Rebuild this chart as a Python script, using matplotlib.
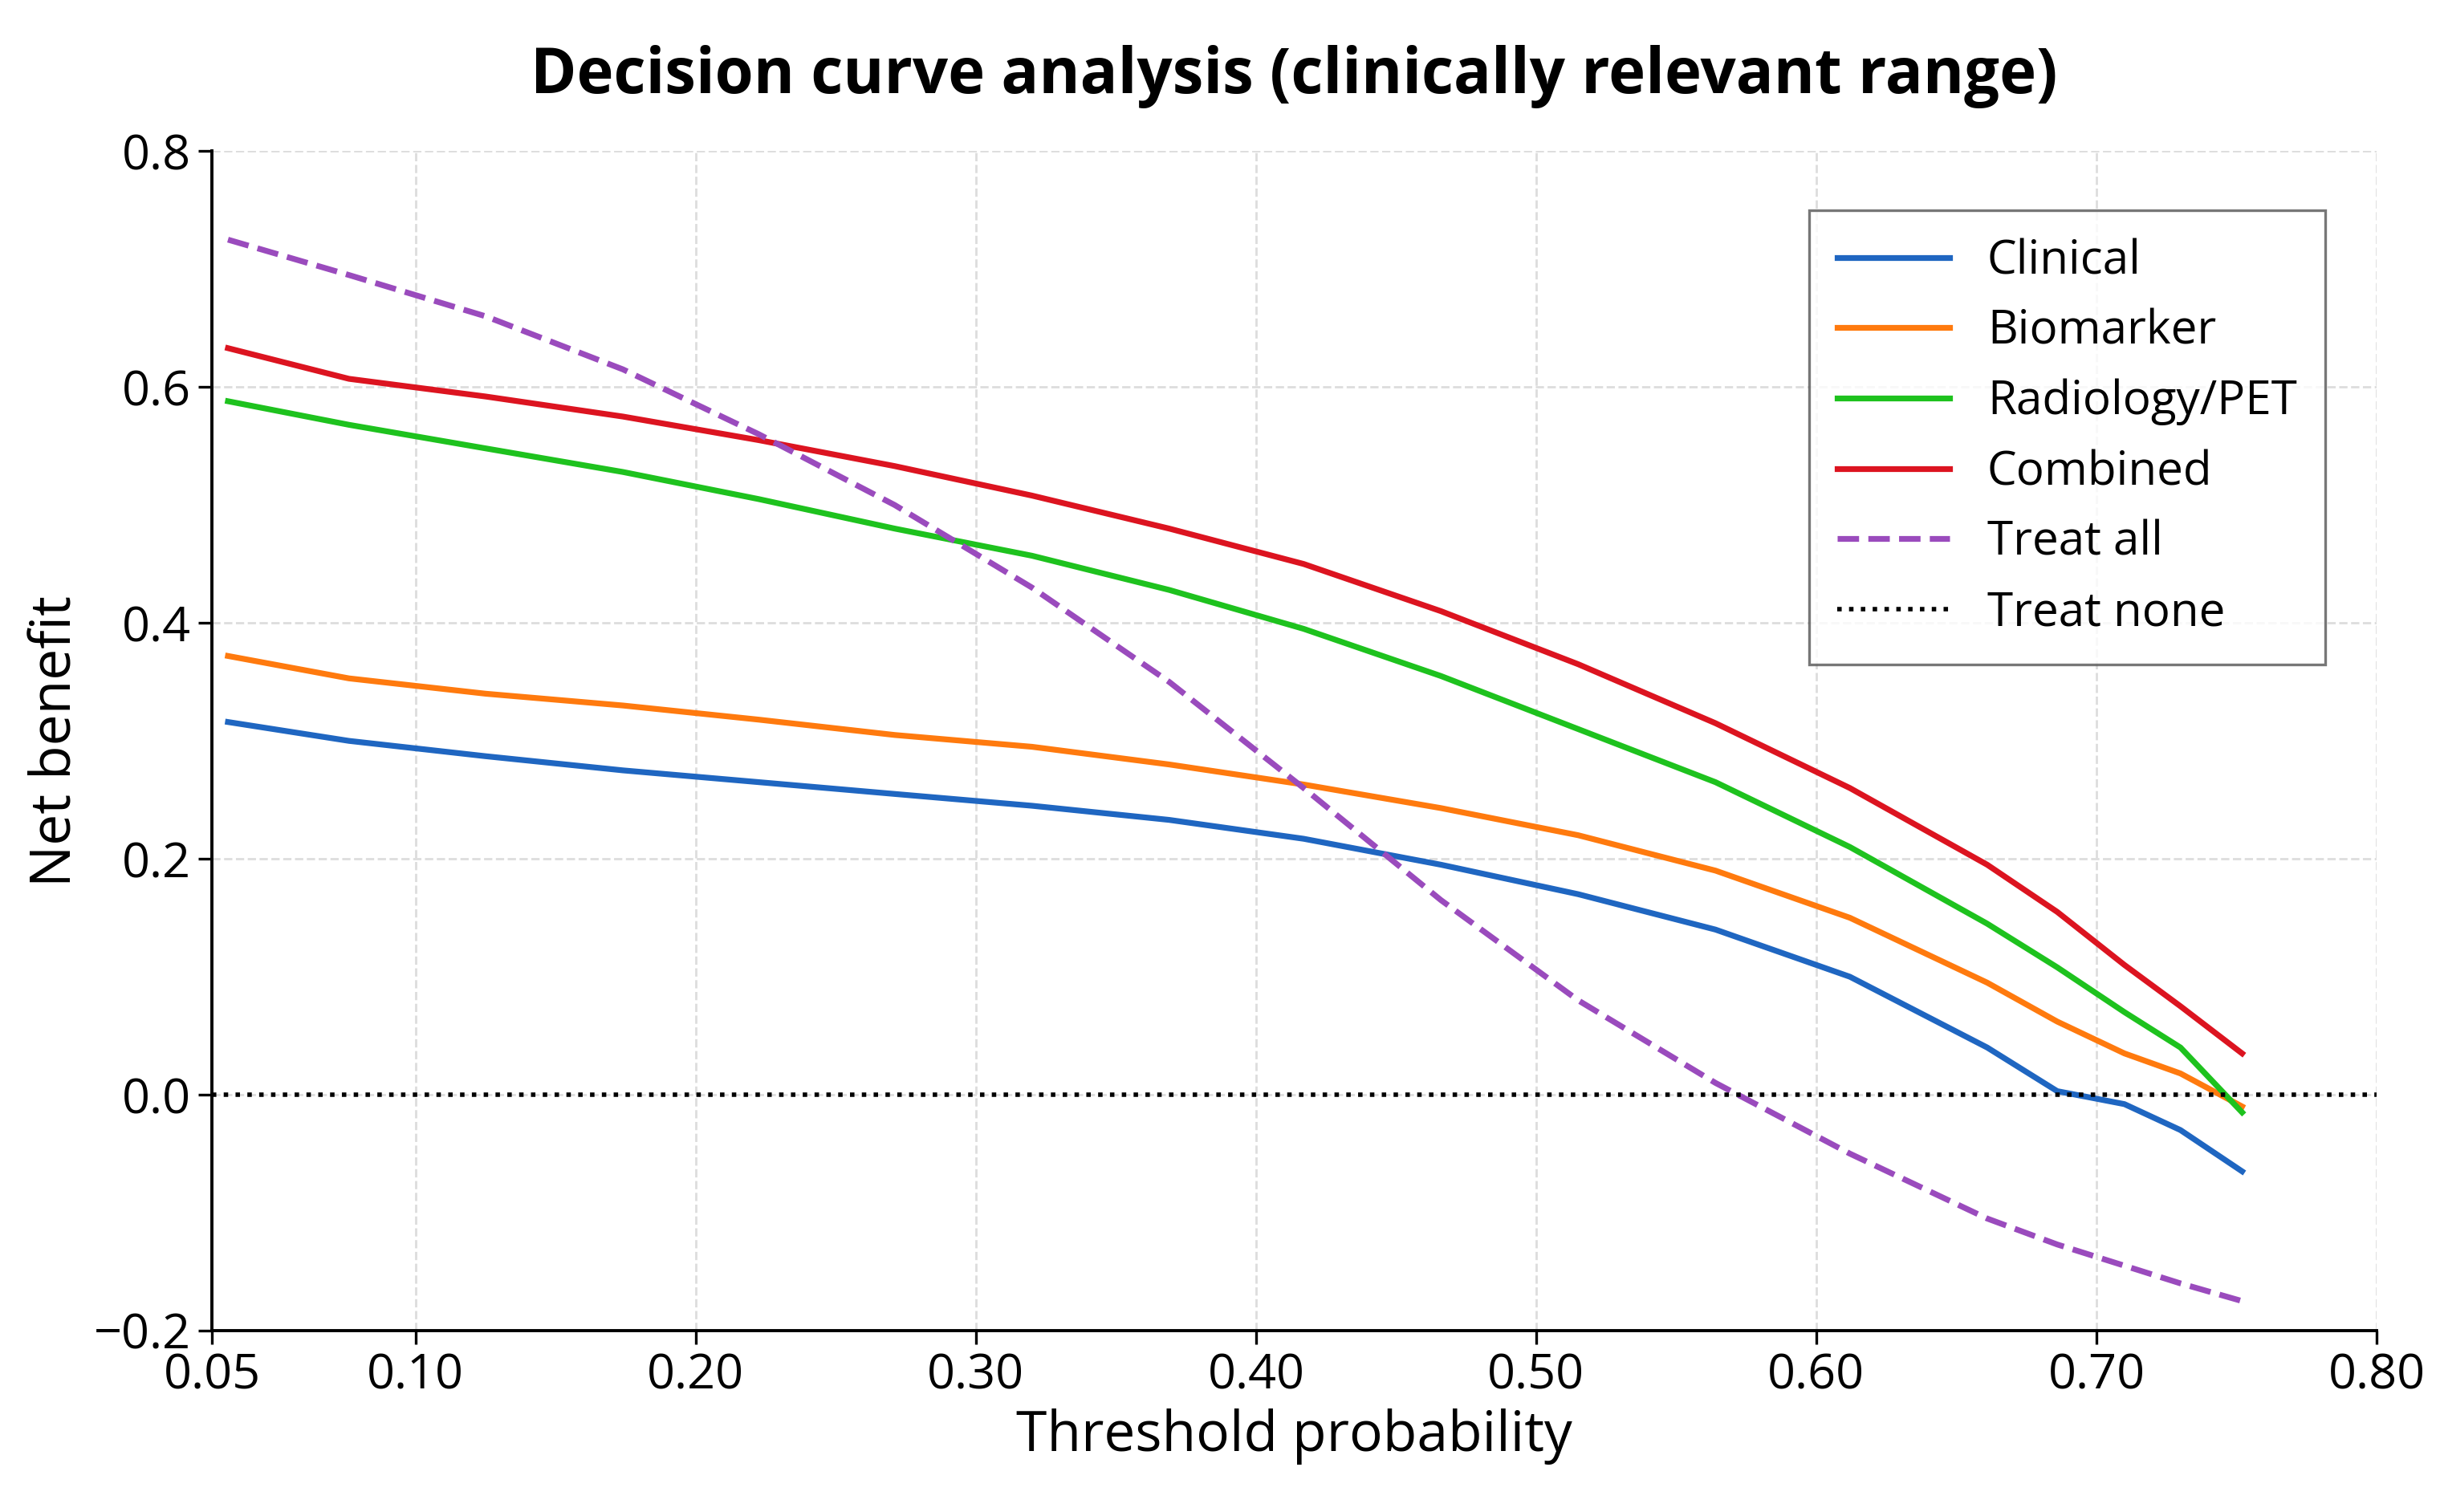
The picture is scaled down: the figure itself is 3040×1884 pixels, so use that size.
import matplotlib.pyplot as plt

plt.rcParams["font.family"] = ["Open Sans", "DejaVu Sans"]

thr = [0.033, 0.0762, 0.125, 0.174, 0.2225, 0.271, 0.320, 0.369, 0.417, 0.466, 0.515, 0.564, 0.612, 0.661, 0.686, 0.710, 0.730, 0.752]
clinical = [0.316, 0.300, 0.287, 0.275, 0.265, 0.255, 0.245, 0.233, 0.217, 0.195, 0.170, 0.140, 0.100, 0.040, 0.003, -0.008, -0.030, -0.065]
biomarker = [0.372, 0.353, 0.340, 0.330, 0.318, 0.305, 0.295, 0.280, 0.263, 0.243, 0.220, 0.190, 0.150, 0.095, 0.062, 0.035, 0.018, -0.010]
radiology = [0.588, 0.568, 0.548, 0.528, 0.505, 0.480, 0.457, 0.428, 0.395, 0.355, 0.310, 0.265, 0.210, 0.145, 0.108, 0.070, 0.040, -0.015]
combined = [0.633, 0.607, 0.592, 0.575, 0.555, 0.533, 0.508, 0.480, 0.450, 0.410, 0.365, 0.315, 0.260, 0.195, 0.155, 0.110, 0.075, 0.035]
treat_all = [0.725, 0.695, 0.660, 0.615, 0.560, 0.500, 0.430, 0.350, 0.260, 0.165, 0.080, 0.010, -0.050, -0.105, -0.127, -0.145, -0.160, -0.175]

x_ticks = [0.0274, 0.10, 0.20, 0.30, 0.40, 0.50, 0.60, 0.70, 0.80]
x_labels = ["0.05", "0.10", "0.20", "0.30", "0.40", "0.50", "0.60", "0.70", "0.80"]

series = [
    ("Clinical", clinical, "#1f66c1", "-"),
    ("Biomarker", biomarker, "#ff7a0e", "-"),
    ("Radiology/PET", radiology, "#1ec21e", "-"),
    ("Combined", combined, "#dc1420", "-"),
    ("Treat all", treat_all, "#9a4bbd", "--"),
]

fig, ax = plt.subplots(figsize=(15.2, 9.42), dpi=200)
for name, vals, col, ls in series:
    ax.plot(thr, vals, color=col, ls=ls, lw=2.6, label=name)
ax.axhline(0, color="black", ls=":", lw=2.0, label="Treat none")

ax.set_xlim(0.0274, 0.80)
ax.set_ylim(-0.2, 0.8)
ax.set_xticks(x_ticks)
ax.set_xticklabels(x_labels)
ax.set_yticks([-0.2, 0.0, 0.2, 0.4, 0.6, 0.8])
ax.set_yticklabels(["\u22120.2", "0.0", "0.2", "0.4", "0.6", "0.8"])
ax.tick_params(labelsize=22, length=6, width=1.2)
ax.grid(True, ls="--", color="#dddddd", lw=1)
for s in ["top", "right"]:
    ax.spines[s].set_visible(False)
for s in ["left", "bottom"]:
    ax.spines[s].set_linewidth(1.4)

ax.set_xlabel("Threshold probability", fontsize=25)
ax.set_ylabel("Net benefit", fontsize=25)
ax.set_title("Decision curve analysis (clinically relevant range)", fontsize=28, fontweight="bold", pad=26)
leg = ax.legend(loc="upper right", bbox_to_anchor=(0.987, 0.97), fontsize=21, fancybox=False,
                edgecolor="#555555", handlelength=2.4, borderpad=0.6, labelspacing=0.5)
leg.get_frame().set_linewidth(1.2)

plt.subplots_adjust(left=0.087, right=0.974, top=0.9, bottom=0.12)
fig.savefig("out.png", dpi=200)
